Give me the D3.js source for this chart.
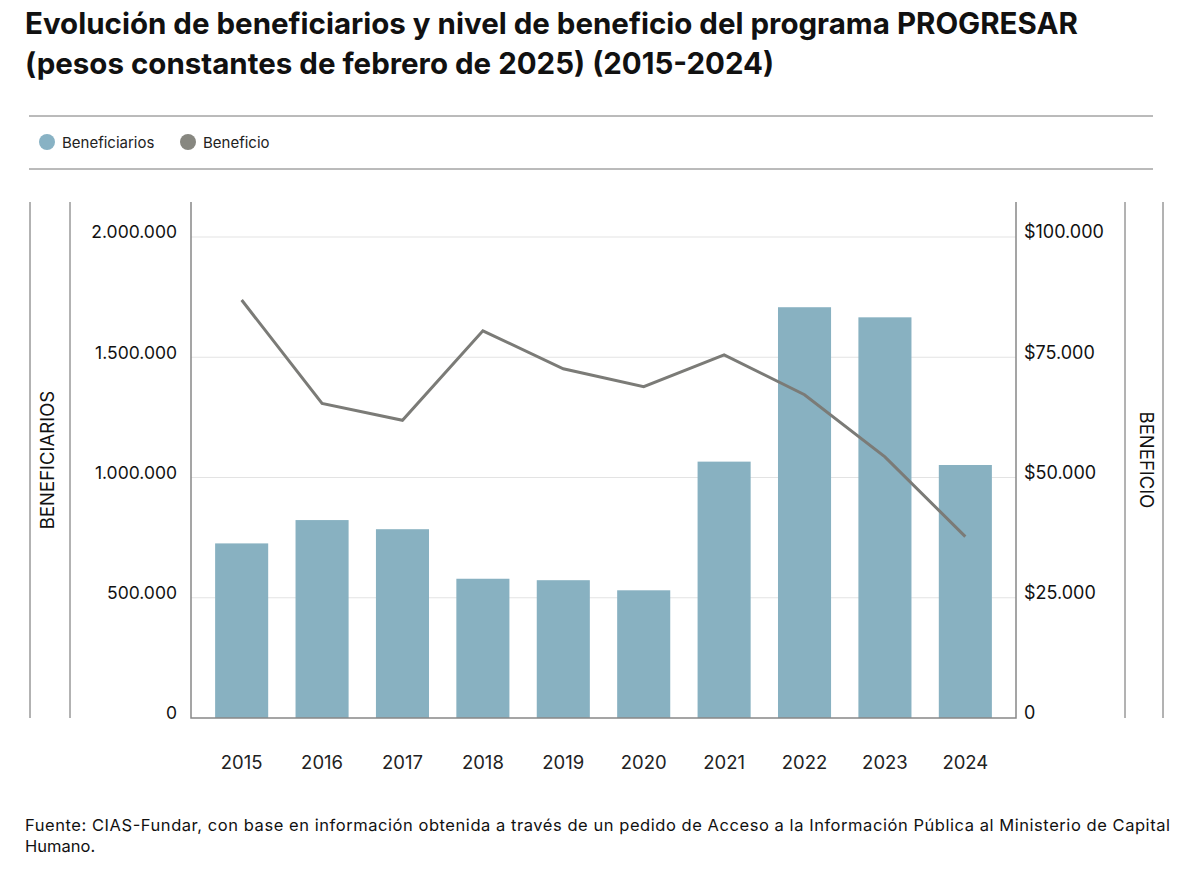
<!DOCTYPE html>
<html lang="es">
<head>
<meta charset="UTF-8">
<title>PROGRESAR</title>
<script src="https://d3js.org/d3.v7.min.js"></script>
<style>
  body { margin: 0; background: #fff; }
  svg { display: block; font-family: Inter, "Noto Sans", sans-serif; }
</style>
</head>
<body>
<svg width="1200" height="887"></svg>
<script>
// Datos
const years = ["2015", "2016", "2017", "2018", "2019", "2020", "2021", "2022", "2023", "2024"];
const beneficiarios = [726000, 823000, 785000, 579000, 573000, 531000, 1066000, 1708000, 1666000, 1052000];
const beneficio = [86900, 65400, 61900, 80500, 72600, 68900, 75500, 67200, 54300, 37700];
const leftTicks = [0, 500000, 1000000, 1500000, 2000000];
const rightTicks = [0, 25000, 50000, 75000, 100000];

const barColor = "#88b1c1";
const lineColor = "#7b7b77";

const svg = d3.select("svg");

// Titulo
svg.append("text")
  .attr("x", 25).attr("y", 0)
  .attr("font-size", 29.5).attr("font-weight", 700).attr("fill", "#111")
  .selectAll("tspan")
  .data(["Evolución de beneficiarios y nivel de beneficio del programa PROGRESAR",
         "(pesos constantes de febrero de 2025) (2015-2024)"])
  .join("tspan")
  .attr("x", 25)
  .attr("y", (d, i) => 34 + i * 40)
  .text(d => d);

// Reglas de la leyenda
[116, 169].forEach(y => {
  svg.append("line")
    .attr("x1", 29).attr("x2", 1153).attr("y1", y).attr("y2", y)
    .attr("stroke", "#777").attr("stroke-width", 1);
});

const legendItems = [
  { label: "Beneficiarios", color: "#88b2c4", x: 47 },
  { label: "Beneficio", color: "#878780", x: 188 }
];
const lg = svg.append("g");
legendItems.forEach(it => {
  lg.append("circle").attr("cx", it.x).attr("cy", 142).attr("r", 8).attr("fill", it.color);
  lg.append("text").attr("x", it.x + 15).attr("y", 147.5)
    .attr("font-size", 15).attr("fill", "#222").text(it.label);
});

// Area del grafico
const pLeft = 191, pRight = 1016, pTop = 202, pBottom = 718;

const x = d3.scaleBand()
  .domain(years)
  .range([pLeft, pRight])
  .paddingInner(0.34)
  .paddingOuter(0.3);

const yL = d3.scaleLinear().domain([0, 2000000]).range([pBottom, 237]);
const yR = d3.scaleLinear().domain([0, 100000]).range([pBottom, 237]);

const fmt = d3.formatLocale({ decimal: ",", thousands: ".", grouping: [3], currency: ["$", ""] });
const fmtN = fmt.format(",d");

// Lineas verticales decorativas
[30, 70, 1125, 1163].forEach(xv => {
  svg.append("line")
    .attr("x1", xv).attr("x2", xv).attr("y1", pTop).attr("y2", pBottom)
    .attr("stroke", "#666").attr("stroke-width", 1);
});

// Grilla
svg.append("g")
  .selectAll("line")
  .data(leftTicks.filter(d => d > 0))
  .join("line")
  .attr("x1", pLeft).attr("x2", pRight)
  .attr("y1", d => yL(d)).attr("y2", d => yL(d))
  .attr("stroke", "#e3e3e3").attr("stroke-width", 1);

// Barras
svg.append("g")
  .selectAll("rect")
  .data(years)
  .join("rect")
  .attr("x", d => x(d))
  .attr("width", x.bandwidth())
  .attr("y", (d, i) => yL(beneficiarios[i]))
  .attr("height", (d, i) => pBottom - yL(beneficiarios[i]))
  .attr("fill", barColor);

// Linea de beneficio
const line = d3.line()
  .x((d, i) => x(years[i]) + x.bandwidth() / 2)
  .y(d => yR(d));

svg.append("path")
  .datum(beneficio)
  .attr("d", line)
  .attr("fill", "none")
  .attr("stroke", lineColor)
  .attr("stroke-width", 3);

// Ejes
const axisL = svg.append("g")
  .attr("transform", `translate(${pLeft},0)`)
  .call(d3.axisLeft(yL).tickValues(leftTicks).tickSize(0).tickPadding(14).tickFormat(fmtN));
axisL.select(".domain").remove();
axisL.selectAll("text").attr("font-size", 17.5);

const axisR = svg.append("g")
  .attr("transform", `translate(${pRight},0)`)
  .call(d3.axisRight(yR).tickValues(rightTicks).tickSize(0).tickPadding(8)
    .tickFormat(d => d === 0 ? "0" : "$" + fmtN(d)));
axisR.select(".domain").remove();
axisR.selectAll("text").attr("font-size", 18);

[axisL, axisR].forEach(a => {
  a.selectAll("text")
    .attr("font-family", "Inter, 'Noto Sans', sans-serif")
    .attr("fill", "#111")
    .attr("dy", "0.05em");
});

const axisX = svg.append("g")
  .attr("transform", `translate(0,${pBottom})`)
  .call(d3.axisBottom(x).tickSize(0).tickPadding(38));
axisX.select(".domain").remove();
axisX.selectAll("text")
  .attr("font-family", "Inter, 'Noto Sans', sans-serif")
  .attr("font-size", 18.5).attr("fill", "#222");

// Marco del grafico
svg.append("path")
  .attr("d", `M${pLeft},${pTop}V${pBottom}H${pRight}V${pTop}`)
  .attr("fill", "none").attr("stroke", "#888").attr("stroke-width", 1.5);

// Titulos de ejes
svg.append("text")
  .attr("transform", `translate(54,460) rotate(-90)`)
  .attr("text-anchor", "middle")
  .attr("font-size", 18.5).attr("fill", "#111")
  .text("BENEFICIARIOS");

svg.append("text")
  .attr("transform", `translate(1140,460) rotate(90)`)
  .attr("text-anchor", "middle")
  .attr("font-size", 18.5).attr("fill", "#111")
  .text("BENEFICIO");

// Fuente
const footer = svg.append("text")
  .attr("font-size", 16.5).attr("fill", "#111");
footer.append("tspan")
  .attr("x", 25).attr("y", 831)
  .attr("textLength", 1145).attr("lengthAdjust", "spacing")
  .text("Fuente: CIAS-Fundar, con base en información obtenida a través de un pedido de Acceso a la Información Pública al Ministerio de Capital");
footer.append("tspan")
  .attr("x", 25).attr("y", 852)
  .text("Humano.");
</script>
</body>
</html>
